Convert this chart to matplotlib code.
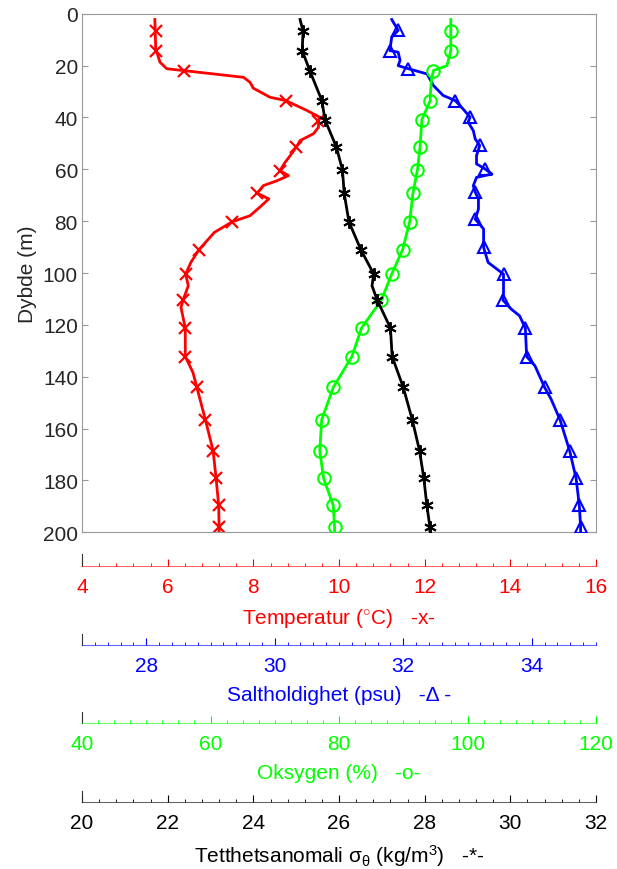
import matplotlib.pyplot as plt
from matplotlib.ticker import MultipleLocator

plt.rcParams['font.family'] = ['Liberation Sans', 'DejaVu Sans']
plt.rcParams['mathtext.fontset'] = 'custom'
plt.rcParams['mathtext.rm'] = 'Liberation Sans'
plt.rcParams['mathtext.it'] = 'Liberation Sans'

# Temperature profile (line) and marker points
temp_depth = [2.2, 13.5, 18.7, 21.2, 21.9, 24.5, 26.4, 28.7, 32.2, 33.5, 37.3, 39.9, 41.2,
              43.8, 46.3, 48.9, 51.5, 54.7, 57.3, 60.5, 62.4, 64.4, 66.3, 69.2, 71.4, 74.6,
              77.9, 80.2, 84.3, 91, 95.9, 100.4, 104.9, 110.4, 113.3, 121.2, 132.2, 138.4,
              144.1, 156.6, 168.6, 179.2, 189.6, 197.8, 199.5]
temp = [5.70, 5.72, 5.82, 5.98, 6.37, 7.77, 7.92, 8.0, 8.39, 8.76, 9.25, 9.55, 9.52,
        9.52, 9.40, 9.09, 9.0, 8.86, 8.74, 8.62, 8.82, 8.55, 8.23, 8.09, 8.36, 8.15,
        7.92, 7.51, 7.09, 6.73, 6.54, 6.42, 6.48, 6.36, 6.31, 6.41, 6.41, 6.59,
        6.68, 6.88, 7.06, 7.13, 7.19, 7.20, 7.20]
temp_mk_depth = [6.7, 14.2, 21.9, 33.5, 41.2, 51.5, 60.5, 69.2, 80.2, 91, 100.4, 110.4,
                 121.2, 132.2, 144.1, 156.6, 168.6, 179.2, 189.6, 197.8]
temp_mk = [5.72, 5.72, 6.37, 8.76, 9.52, 9.0, 8.62, 8.09, 7.51, 6.73, 6.42, 6.36,
           6.41, 6.41, 6.68, 6.88, 7.06, 7.13, 7.19, 7.20]

# Salinity
sal_depth = [2.2, 6.4, 9.0, 14.2, 14.8, 18.0, 20.0, 21.2, 23.2, 27.7, 31.5, 33.5, 36.7,
             39.9, 41.8, 45.1, 48.3, 50.8, 54.7, 57.9, 59.8, 61.8, 63.1, 66.3, 68.8, 71.4,
             75.3, 79.2, 83.0, 90.1, 95.9, 100.4, 107.5, 110.4, 113.9, 116.5, 121.2, 132.2,
             135.8, 144.1, 148.6, 156.6, 168.6, 179.2, 189.6, 197.8, 199.5]
sal = [31.82, 31.92, 31.82, 31.79, 31.92, 31.95, 31.92, 32.08, 32.37, 32.47, 32.62, 32.81,
       32.93, 33.04, 33.01, 33.09, 33.12, 33.19, 33.14, 33.14, 33.27, 33.38, 33.14, 33.09,
       33.12, 33.17, 33.17, 33.12, 33.25, 33.25, 33.32, 33.56, 33.56, 33.55, 33.68, 33.81,
       33.90, 33.92, 34.05, 34.20, 34.30, 34.44, 34.59, 34.69, 34.74, 34.76, 34.76]
sal_mk_depth = [6.4, 14.2, 21.2, 33.5, 39.9, 50.8, 59.8, 68.8, 79.2, 90.1, 100.4, 110.4,
                121.2, 132.2, 144.1, 156.6, 168.6, 179.2, 189.6, 197.8]
sal_mk = [31.92, 31.79, 32.08, 32.81, 33.04, 33.19, 33.27, 33.12, 33.12, 33.25, 33.56, 33.55,
          33.90, 33.92, 34.20, 34.44, 34.59, 34.69, 34.74, 34.76]

# Oxygen
oxy_depth = [2.2, 6.7, 14.2, 20.0, 21.9, 25.1, 31.5, 33.5, 40.8, 51.5, 60.3, 69.2, 80.2,
             91, 100.4, 110.4, 121.2, 132.2, 144.1, 156.6, 168.6, 179.2, 189.6, 197.8, 199.5]
oxy = [97.4, 97.4, 97.4, 96.8, 94.7, 94.4, 94.2, 94.2, 92.9, 92.6, 92.2, 91.5, 91.0,
       89.9, 88.2, 86.6, 83.5, 82.0, 79.1, 77.3, 77.0, 77.6, 79.1, 79.3, 79.3]
oxy_mk_depth = [6.7, 14.2, 21.9, 33.5, 40.8, 51.5, 60.3, 69.2, 80.2, 91, 100.4, 110.4,
                121.2, 132.2, 144.1, 156.6, 168.6, 179.2, 189.6, 197.8]
oxy_mk = [97.4, 97.4, 94.7, 94.2, 92.9, 92.6, 92.2, 91.5, 91.0, 89.9, 88.2, 86.6,
          83.5, 82.0, 79.1, 77.3, 77.0, 77.6, 79.1, 79.3]

# Density anomaly
dens_depth = [2.2, 6.7, 14.2, 22.1, 33.5, 40.8, 51.5, 60.3, 69.2, 80.2, 91, 100.4, 104.9,
              110.4, 121.2, 132.2, 144.1, 156.6, 168.6, 179.2, 189.6, 197.8, 199.5]
dens = [25.09, 25.16, 25.14, 25.32, 25.60, 25.67, 25.94, 26.08, 26.12, 26.23, 26.51, 26.81,
        26.77, 26.89, 27.20, 27.24, 27.50, 27.71, 27.88, 27.98, 28.05, 28.12, 28.12]
dens_mk_depth = [6.7, 14.2, 22.1, 33.5, 40.8, 51.5, 60.3, 69.2, 80.2, 91, 100.4, 110.4,
                 121.2, 132.2, 144.1, 156.6, 168.6, 179.2, 189.6, 197.8]
dens_mk = [25.16, 25.14, 25.32, 25.60, 25.67, 25.94, 26.08, 26.12, 26.23, 26.51, 26.81, 26.89,
           27.20, 27.24, 27.50, 27.71, 27.88, 27.98, 28.05, 28.12]

red, blue, green, black = '#ff0000', '#0000ff', '#00ff00', '#000000'
fs = 15

fig = plt.figure(figsize=(6.17, 8.70), dpi=100)
ax = fig.add_axes([0.133, 0.387, 0.833, 0.596])

ax_t = ax
ax_s = ax.twiny()
ax_o = ax.twiny()
ax_d = ax.twiny()

lw = 2.0
ax_t.plot(temp, temp_depth, color=red, lw=lw)
ax_t.plot(temp_mk, temp_mk_depth, ls='none', marker='x', color=red, ms=8, mew=1.6)
ax_s.plot(sal, sal_depth, color=blue, lw=lw)
ax_s.plot(sal_mk, sal_mk_depth, ls='none', marker='^', color=blue, ms=9, mew=1.5,
          mfc='none')
ax_o.plot(oxy, oxy_depth, color=green, lw=lw)
ax_o.plot(oxy_mk, oxy_mk_depth, ls='none', marker='o', color=green, ms=9, mew=1.5,
          mfc='none')
ax_d.plot(dens, dens_depth, color=black, lw=lw)
ax_d.plot(dens_mk, dens_mk_depth, ls='none', marker=(6, 2, 0), color=black, ms=9, mew=1.4)

ax_t.set_xlim(4, 16)
ax_s.set_xlim(27, 35)
ax_o.set_xlim(40, 120)
ax_d.set_xlim(20, 32)

ax.set_ylim(200, 0)
ax.set_yticks(range(0, 201, 20))
ax.set_ylabel('Dybde (m)', fontsize=fs, color='#262626', labelpad=4)
ax.tick_params(axis='y', direction='in', right=True, labelsize=fs, colors='#999999',
               labelcolor='#262626', length=4, pad=3)
ax.tick_params(axis='x', bottom=False, labelbottom=False)
for s in ax.spines.values():
    s.set_color('#999999')
for a in (ax_s, ax_o, ax_d):
    a.set_xticks([])
    for s in a.spines.values():
        s.set_visible(False)

# separate colored x-axes below the profile panel
scales = [
    (0.3486, 4, 16, 2, 0.4, red, 'Temperatur ($^{\\circ}$C)   -x-'),
    (0.2575, 27, 35, 2, 0.2, blue, 'Saltholdighet (psu)   -\u0394 -'),
    (0.1675, 40, 120, 20, 2.5, green, 'Oksygen (%)   -o-'),
    (0.0767, 20, 32, 2, 0.4, black, 'Tetthetsanomali $\\sigma_\\theta$ (kg/m$^3$)   -*-'),
]
for y0, lo, hi, major, minor, col, label in scales:
    sa = fig.add_axes([0.133, y0, 0.833, 0.013])
    sa.set_xlim(lo, hi)
    sa.set_ylim(0, 1)
    sa.set_yticks([])
    for k in ('top', 'right'):
        sa.spines[k].set_visible(False)
    sa.spines['bottom'].set_color(col)
    sa.spines['bottom'].set_alpha(0.6)
    sa.spines['left'].set_color('#333333')
    sa.patch.set_alpha(0)
    if lo == 27:
        sa.set_xticks([28, 30, 32, 34])
    else:
        sa.xaxis.set_major_locator(MultipleLocator(major))
    sa.xaxis.set_minor_locator(MultipleLocator(minor))
    sa.tick_params(axis='x', which='major', direction='in', length=5, color=col,
                   labelcolor=col, labelsize=fs, pad=8)
    sa.tick_params(axis='x', which='minor', direction='in', length=2.5, color=col)
    sa.set_xlabel(label, fontsize=fs, color=col, labelpad=7)

fig.savefig('out.png', dpi=100)
